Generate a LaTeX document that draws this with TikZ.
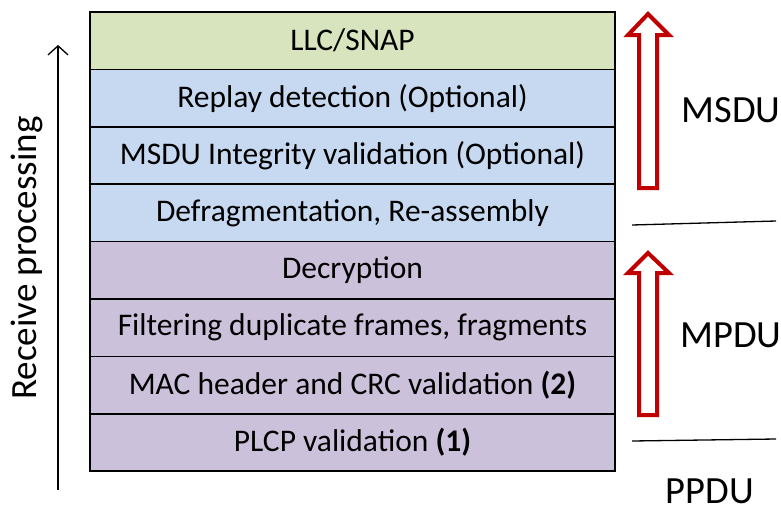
\documentclass[tikz,border=0pt]{standalone}
\usepackage{fontspec}
\setmainfont{Carlito}
\usetikzlibrary{positioning,arrows.meta}
\definecolor{llcgreen}{HTML}{D7E4BD}
\definecolor{msdublue}{HTML}{C6D9F0}
\definecolor{mpdupurple}{HTML}{CCC1DA}
\definecolor{arrowred}{HTML}{C00000}
\tikzset{
  layer/.style={draw=black,line width=1.6pt,minimum width=525pt,minimum height=57.4pt,
    inner sep=0pt,outer sep=0pt,font=\fontsize{31.5}{36}\selectfont},
  pdulabel/.style={font=\fontsize{38.5}{44}\selectfont,inner sep=0pt},
  hollowarrow/.style={draw=arrowred,line width=4pt,fill=white,miter limit=20},
  splitline/.style={draw=black,line width=1.3pt}
}
\begin{document}
\begin{tikzpicture}[x=1pt,y=1pt]
\useasboundingbox (0,0) rectangle (781,-506);
% stack of receive steps
\node[layer,fill=llcgreen,anchor=north west] (llc) at (90,-12) {LLC/SNAP};
\node[layer,fill=msdublue,below=0pt of llc] (replay) {Replay detection (Optional)};
\node[layer,fill=msdublue,below=0pt of replay] (mic) {MSDU Integrity validation (Optional)};
\node[layer,fill=msdublue,below=0pt of mic] (defrag) {Defragmentation, Re-assembly};
\node[layer,fill=mpdupurple,below=0pt of defrag] (decrypt) {Decryption};
\node[layer,fill=mpdupurple,below=0pt of decrypt] (dupl) {Filtering duplicate frames, fragments};
\node[layer,fill=mpdupurple,below=0pt of dupl] (crc) {MAC header and CRC validation \textbf{(2)}};
\node[layer,fill=mpdupurple,below=0pt of crc] (plcp) {PLCP validation \textbf{(1)}};
% receive direction
\coordinate (rxbot) at (58,-490);
\coordinate (rxtop) at (58,-45);
\draw[line width=1.3pt,-{Straight Barb[length=9pt,width=20pt,line width=1.3pt]}] (rxbot) -- (rxtop);
\node[font=\fontsize{37}{42}\selectfont,rotate=90,inner sep=0pt] (rxtext) at (27,-258) {Receive processing};
% red hollow arrows
\draw[hollowarrow] (639,-188) -- (639,-35) -- (628,-35) -- (648,-14) -- (669,-35) -- (657,-35) -- (657,-188) -- cycle;
\draw[hollowarrow] (639,-415) -- (639,-273) -- (628,-273) -- (648,-253) -- (669,-273) -- (657,-273) -- (657,-415) -- cycle;
% split lines
\coordinate (msduL) at (632,-225);
\coordinate (msduR) at (776,-221);
\coordinate (mpduL) at (632,-441);
\coordinate (mpduR) at (776,-439);
\draw[splitline] (msduL) -- (msduR);
\draw[splitline] (mpduL) -- (mpduR);
% unit labels
\node[pdulabel] (msdu) at (731,-110) {MSDU};
\node[pdulabel] (mpdu) at (731,-335) {MPDU};
\node[pdulabel,anchor=base,text depth=0pt] (ppdu) at (710,-503) {PPDU};
\end{tikzpicture}
\end{document}
